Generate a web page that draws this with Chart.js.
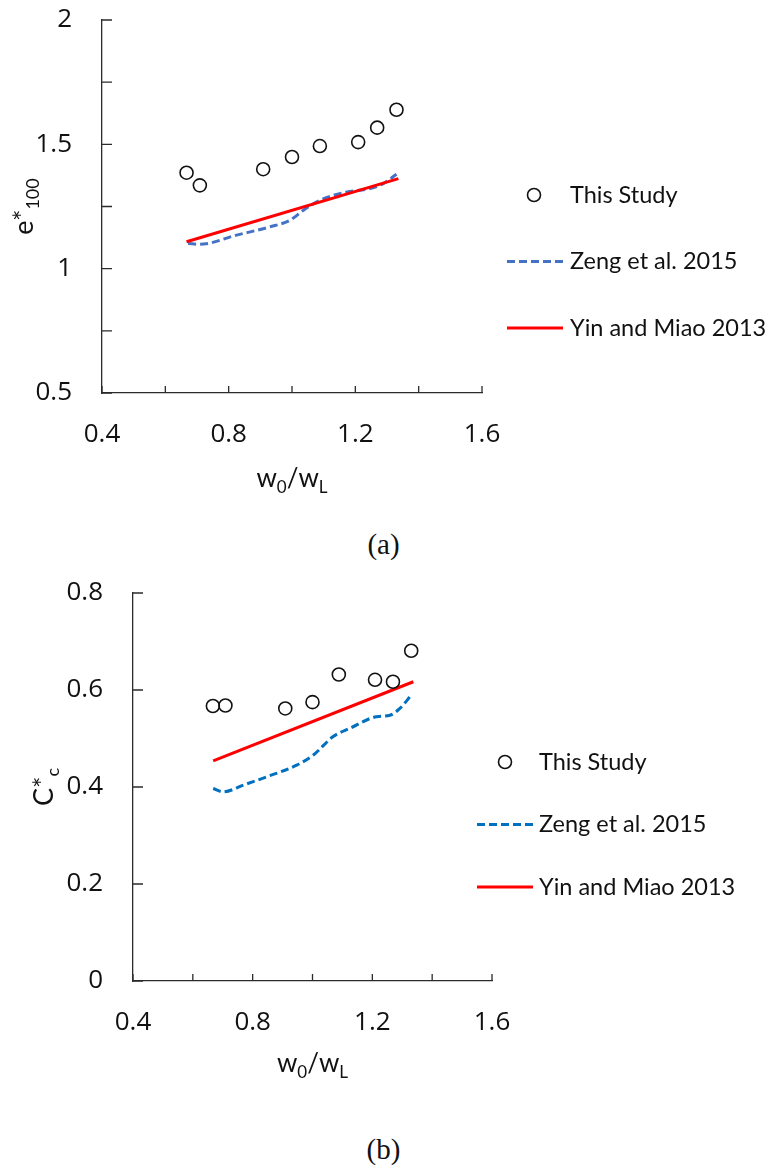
<!DOCTYPE html>
<html>
<head>
<meta charset="utf-8">
<script src="https://cdn.jsdelivr.net/npm/chart.js@4.4.1/dist/chart.umd.min.js"></script>
<style>
  body { margin: 0; background: #fff; width: 767px; height: 1167px; position: relative; overflow: hidden; }
  canvas { position: absolute; left: 0; }
  #chartA { top: 0; }
  #chartB { top: 560px; }
  .caption { position: absolute; left: 0; width: 767px; text-align: center;
             font: 29px "Liberation Serif", "Times New Roman", serif; line-height: 29px; color: #111; }
</style>
</head>
<body>
<canvas id="chartA" width="767" height="505"></canvas>
<div class="caption" style="top: 530px;">(a)</div>
<canvas id="chartB" width="767" height="530"></canvas>
<div class="caption" style="top: 1135px;">(b)</div>

<script>
// w0/wL of the tested specimens (same for both panels)
var ratio = [0.667, 0.709, 0.909, 1.0, 1.088, 1.209, 1.269, 1.33];

// (a) e*100
var e100Study = [1.386, 1.335, 1.400, 1.449, 1.493, 1.509, 1.567, 1.639];
var zengRatioA = [0.672, 0.709, 0.825, 0.930, 0.994, 1.036, 1.088, 1.173, 1.246, 1.288, 1.330];
var zengE100 = [1.101, 1.098, 1.135, 1.168, 1.195, 1.235, 1.275, 1.308, 1.322, 1.342, 1.380];
var yinRatioA = [0.667, 1.336];
var yinE100 = [1.108, 1.362];

// (b) C*c
var ccStudy = [0.567, 0.568, 0.562, 0.575, 0.632, 0.621, 0.617, 0.681];
var zengRatioB = [0.668, 0.702, 0.769, 0.847, 0.947, 1.003, 1.069, 1.125, 1.214, 1.259, 1.292, 1.331];
var zengCc = [0.397, 0.390, 0.404, 0.421, 0.445, 0.466, 0.504, 0.521, 0.545, 0.548, 0.562, 0.590];
var yinRatioB = [0.668, 1.337];
var yinCc = [0.454, 0.617];

var seriesNames = ['This Study', 'Zeng et al. 2015', 'Yin and Miao 2013'];

var textColor = '#111';
var axisColor = '#2b2b2b';

Chart.defaults.font.family = 'Lato';
Chart.defaults.font.size = 26;
Chart.defaults.color = textColor;

function pts(xs, ys) {
    return xs.map(function (x, i) { return { x: x, y: ys[i] }; });
}

function tickText(v) {
    return String(Number(v.toFixed(2)));
}

// small inward tick marks along both axes
var innerTicks = {
    id: 'innerTicks',
    beforeDatasetsDraw: function (chart) {
        var ctx = chart.ctx, xs = chart.scales.x, ys = chart.scales.y;
        ctx.save();
        ctx.strokeStyle = axisColor;
        ctx.lineWidth = 1.3;
        ctx.beginPath();
        xs.ticks.forEach(function (t) {
            var px = xs.getPixelForValue(t.value);
            ctx.moveTo(px, ys.bottom);
            ctx.lineTo(px, ys.bottom - 7);
        });
        ys.ticks.forEach(function (t) {
            var py = ys.getPixelForValue(t.value);
            ctx.moveTo(xs.left, py);
            ctx.lineTo(xs.left + 10, py);
        });
        ctx.stroke();
        ctx.restore();
    }
};

// axis titles with subscripts
function drawParts(ctx, parts, size) {
    var subSize = Math.round(size * 0.66);
    var width = 0;
    parts.forEach(function (p) {
        ctx.font = (p[1] ? subSize : size) + 'px Lato';
        width += ctx.measureText(p[0]).width;
    });
    var x = -width / 2;
    parts.forEach(function (p) {
        ctx.font = (p[1] ? subSize : size) + 'px Lato';
        ctx.fillText(p[0], x, p[1] ? 6 : 0);
        x += ctx.measureText(p[0]).width;
    });
}

var axisTitles = {
    id: 'axisTitles',
    afterDraw: function (chart, args, opts) {
        var ctx = chart.ctx, ca = chart.chartArea;
        ctx.save();
        ctx.fillStyle = textColor;
        ctx.textAlign = 'left';
        ctx.textBaseline = 'alphabetic';

        ctx.save();
        ctx.translate((ca.left + ca.right) / 2, ca.bottom + opts.xGap);
        drawParts(ctx, opts.x, 26);
        ctx.restore();

        ctx.translate(ca.left - opts.yGap, (ca.top + ca.bottom) / 2);
        ctx.rotate(-Math.PI / 2);
        drawParts(ctx, opts.y, 27);
        ctx.restore();
    }
};

// legend to the right of the plot: marker/line sample, then the name
var sideLegend = {
    id: 'sideLegend',
    afterDraw: function (chart, args, opts) {
        var ctx = chart.ctx;
        ctx.save();
        ctx.font = '23.5px Lato';
        ctx.textBaseline = 'middle';
        ctx.textAlign = 'left';
        chart.data.datasets.forEach(function (ds, i) {
            var y = opts.top + i * opts.gap;
            if (ds.showLine) {
                ctx.strokeStyle = ds.borderColor;
                ctx.lineWidth = ds.borderWidth;
                ctx.setLineDash(ds.borderDash || []);
                ctx.beginPath();
                ctx.moveTo(opts.lineLeft, y);
                ctx.lineTo(opts.lineLeft + opts.lineLength, y);
                ctx.stroke();
                ctx.setLineDash([]);
            } else {
                ctx.strokeStyle = ds.pointBorderColor;
                ctx.lineWidth = ds.pointBorderWidth;
                ctx.beginPath();
                ctx.arc(opts.markX, y, ds.pointRadius, 0, Math.PI * 2);
                ctx.stroke();
            }
            ctx.fillStyle = textColor;
            ctx.fillText(ds.label, opts.textLeft, y);
        });
        ctx.restore();
    }
};

function makeDatasets(studyY, zengX, zengY, yinX, yinY, zengColor) {
    return [{
        label: seriesNames[0],
        data: pts(ratio, studyY),
        showLine: false,
        pointStyle: 'circle',
        pointRadius: 6.5,
        pointBorderWidth: 1.6,
        pointBorderColor: '#111',
        pointBackgroundColor: 'rgba(0,0,0,0)',
        order: 0
    }, {
        label: seriesNames[1],
        data: pts(zengX, zengY),
        showLine: true,
        borderColor: zengColor,
        borderWidth: 3,
        borderDash: [8, 4],
        pointRadius: 0,
        cubicInterpolationMode: 'monotone',
        order: 2
    }, {
        label: seriesNames[2],
        data: pts(yinX, yinY),
        showLine: true,
        borderColor: '#FF0000',
        borderWidth: 3,
        pointRadius: 0,
        order: 1
    }];
}

var tickFont = { family: 'Open Sans', size: 26 };

// label offsets go through tickLength (grid hidden) so ticks.padding
// doesn't inflate the space Chart.js reserves above the plot
function axisOptions(cfg) {
    return {
        x: {
            type: 'linear', min: 0.4, max: 1.6,
            grid: { display: false, drawTicks: true, tickLength: 26 },
            border: { display: true, color: axisColor, width: 1.3 },
            ticks: {
                stepSize: 0.2, autoSkip: false, maxRotation: 0, padding: 0, font: tickFont,
                callback: function (v) { return Math.round(v * 10) % 4 === 0 ? tickText(v) : ''; }
            },
            afterFit: function (s) { s.height = cfg.xHeight; }
        },
        y: {
            type: 'linear', min: cfg.yMin, max: cfg.yMax,
            grid: { display: false, drawTicks: true, tickLength: 30 },
            border: { display: true, color: axisColor, width: 1.3 },
            ticks: {
                stepSize: cfg.yStep, autoSkip: false, padding: 0, font: tickFont,
                callback: function (v) {
                    var k = Math.round(v / cfg.yStep);
                    return k % cfg.yLabelEvery === 0 ? tickText(v) : '';
                }
            },
            afterFit: function (s) { s.width = cfg.yWidth; }
        }
    };
}

function drawCharts() {
    // (a) void ratio e*100
    new Chart(document.getElementById('chartA').getContext('2d'), {
        type: 'scatter',
        data: { datasets: makeDatasets(e100Study, zengRatioA, zengE100, yinRatioA, yinE100, '#4472C4') },
        plugins: [innerTicks, axisTitles, sideLegend],
        options: {
            responsive: false,
            animation: false,
            events: [],
            layout: { padding: { top: 20, right: 285, left: 0, bottom: 0 } },
            scales: axisOptions({ yMin: 0.5, yMax: 2, yStep: 0.25, yLabelEvery: 2, yWidth: 102, xHeight: 112 }),
            plugins: {
                legend: { display: false },
                tooltip: { enabled: false },
                axisTitles: {
                    x: [['w', false], ['0', true], ['/w', false], ['L', true]],
                    y: [['e*', false], ['100', true]],
                    xGap: 94, yGap: 69
                },
                sideLegend: { top: 195, gap: 66.5, markX: 534, lineLeft: 507, lineLength: 56, textLeft: 570 }
            }
        }
    });

    // (b) compression index C*c
    new Chart(document.getElementById('chartB').getContext('2d'), {
        type: 'scatter',
        data: { datasets: makeDatasets(ccStudy, zengRatioB, zengCc, yinRatioB, yinCc, '#0070C0') },
        plugins: [innerTicks, axisTitles, sideLegend],
        options: {
            responsive: false,
            animation: false,
            events: [],
            layout: { padding: { top: 33, right: 275, left: 0, bottom: 0 } },
            scales: axisOptions({ yMin: 0, yMax: 0.8, yStep: 0.2, yLabelEvery: 1, yWidth: 133, xHeight: 109 }),
            plugins: {
                legend: { display: false },
                tooltip: { enabled: false },
                axisTitles: {
                    x: [['w', false], ['0', true], ['/w', false], ['L', true]],
                    y: [['C*', false], ['c', true]],
                    xGap: 91, yGap: 80
                },
                sideLegend: { top: 202, gap: 62.5, markX: 505, lineLeft: 477, lineLength: 56, textLeft: 539 }
            }
        }
    });
}

Promise.all([
    document.fonts.load('26px "Open Sans"'),
    document.fonts.load('26px Lato')
]).then(drawCharts, drawCharts);
</script>
</body>
</html>
